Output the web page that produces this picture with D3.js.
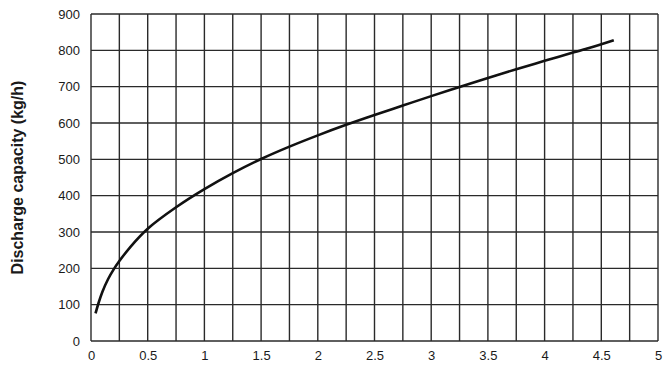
<!DOCTYPE html>
<html>
<head>
<meta charset="utf-8">
<script src="https://cdn.jsdelivr.net/npm/d3@7"></script>
<style>
  body { margin: 0; background: #fff; }
  text { font-family: "Liberation Sans", Arial, sans-serif; fill: #1a1a1a; }
</style>
</head>
<body>
<div id="chart"></div>
<script>
var svgWidth = 665;
var svgHeight = 373;

var margin = { top: 14, right: 7, bottom: 32, left: 91 };
var width = svgWidth - margin.left - margin.right;
var height = svgHeight - margin.top - margin.bottom;

// curve
var pressure = [0.04, 0.07, 0.1, 0.15, 0.2, 0.25, 0.35, 0.5, 0.75, 1, 1.25, 1.5, 1.75, 2, 2.25, 2.5, 2.75, 3, 3.25, 3.5, 3.75, 4, 4.25, 4.5, 4.61];
var capacity = [76, 108, 135, 170, 197, 220, 260, 309, 368, 418, 462, 501, 535, 566, 595, 622, 648, 674, 699, 724, 748, 771, 794, 817, 828];

var xTicks = [0, 0.5, 1, 1.5, 2, 2.5, 3, 3.5, 4, 4.5, 5];
var yTicks = [0, 100, 200, 300, 400, 500, 600, 700, 800, 900];
var xGrid = d3.range(0, 5.001, 0.25);

var svg = d3.select("#chart")
  .append("svg")
  .attr("width", svgWidth)
  .attr("height", svgHeight);

var chartGroup = svg.append("g")
  .attr("transform", `translate(${margin.left}, ${margin.top})`);

var xScale = d3.scaleLinear().domain([0, 5]).range([0, width]);
var yScale = d3.scaleLinear().domain([0, 900]).range([height, 0]);

// grid
chartGroup.append("g")
  .selectAll("line")
  .data(xGrid)
  .enter()
  .append("line")
  .attr("x1", d => xScale(d))
  .attr("x2", d => xScale(d))
  .attr("y1", 0)
  .attr("y2", height)
  .attr("stroke", "#2a2a2a")
  .attr("stroke-width", 1.4);

chartGroup.append("g")
  .selectAll("line")
  .data(yTicks)
  .enter()
  .append("line")
  .attr("x1", 0)
  .attr("x2", width)
  .attr("y1", d => yScale(d))
  .attr("y2", d => yScale(d))
  .attr("stroke", "#2a2a2a")
  .attr("stroke-width", 1.4);

// axes (labels only)
var bottomAxis = d3.axisBottom(xScale).tickValues(xTicks).tickSize(0).tickPadding(10).tickFormat(d3.format("~g"));
var leftAxis = d3.axisLeft(yScale).tickValues(yTicks).tickSize(0).tickPadding(11).tickFormat(d3.format("d"));

var xAxis = chartGroup.append("g")
  .attr("transform", `translate(0, ${height})`)
  .call(bottomAxis);
var yAxis = chartGroup.append("g").call(leftAxis);

[xAxis, yAxis].forEach(function(a) {
  a.select(".domain").remove();
  a.selectAll("text")
    .attr("font-family", "Liberation Sans, Arial, sans-serif")
    .attr("font-size", 13)
    .attr("fill", "#1a1a1a");
});

// curve
var points = pressure.map((p, i) => [p, capacity[i]]);
var line = d3.line()
  .x(d => xScale(d[0]))
  .y(d => yScale(d[1]))
  .curve(d3.curveCatmullRom);

chartGroup.append("path")
  .datum(points)
  .attr("d", line)
  .attr("fill", "none")
  .attr("stroke", "#111")
  .attr("stroke-width", 2.6);

// y axis title
svg.append("text")
  .attr("transform", `translate(23, ${margin.top + height / 2}) rotate(-90)`)
  .attr("text-anchor", "middle")
  .attr("font-size", 16)
  .attr("font-weight", "bold")
  .text("Discharge capacity (kg/h)");
</script>
</body>
</html>
